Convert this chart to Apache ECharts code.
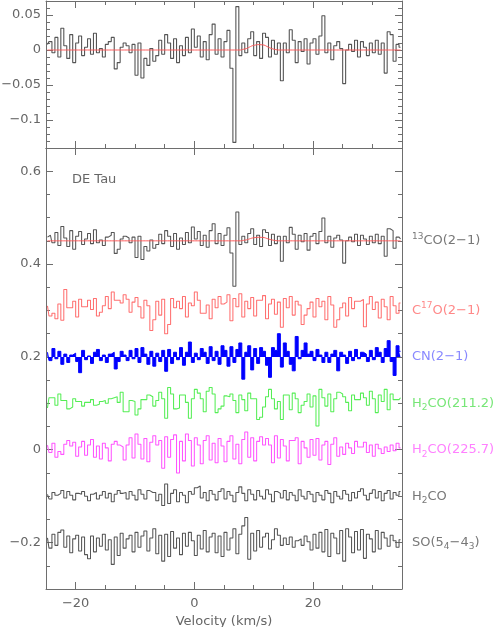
<!DOCTYPE html>
<html>
<head>
<meta charset="utf-8">
<script src="https://cdn.jsdelivr.net/npm/echarts@6/dist/echarts.min.js"></script>
<style>
html,body{margin:0;padding:0;background:#fff;}
#chart{width:493px;height:627px;}
</style>
</head>
<body>
<div id="chart"></div>
<script>
// ---- channel grid (km/s) ----
const v0 = -24.75;   // first channel centre
const dv = 0.5;      // channel width

// ---- top panel: 13CO(2-1) spectrum and model ----
const co13Top = [
 0.008, 0.012,-0.004, 0.018,-0.010, 0.031, 0.006,-0.012, 0.022,-0.018,
 0.010, 0.020,-0.008, 0.004, 0.016,-0.006, 0.024,-0.004, 0.002,-0.010,
 0.008, 0.012, 0.018,-0.027,-0.018, 0.004, 0.010, 0.006,-0.004, 0.008,
-0.036, 0.010,-0.040,-0.012,-0.022, 0.002,-0.016,-0.008, 0.014,-0.006,
 0.022, 0.010,-0.012, 0.016,-0.018, 0.006,-0.008, 0.018,-0.004, 0.030,
 0.004, 0.020,-0.010, 0.012,-0.014, 0.022, 0.037,-0.006, 0.016,-0.010,
 0.012, 0.028,-0.026,-0.132, 0.062,-0.008, 0.010,-0.004, 0.016, 0.026,
-0.008, 0.012,-0.012, 0.024, 0.018,-0.010, 0.014,-0.006, 0.010,-0.044,
 0.010,-0.004, 0.029, 0.014,-0.018, 0.012,-0.002, 0.016,-0.020, 0.010,
 0.016,-0.006, 0.020, 0.049,-0.004, 0.010,-0.014, 0.006, 0.012, 0.002,
-0.048, 0.000, 0.008,-0.002, 0.014,-0.010, 0.012, 0.004,-0.008, 0.010,
-0.004, 0.014,-0.006, 0.010,-0.033, 0.026, 0.022,-0.016, 0.008, 0.004
];
const model = [
 0,0,0,0,0,0,0,0,0,0,
 0,0,0,0,0,0,0,0,0,0,
 0,0,0,0,0,0,0,0,0,0,
 0,0,0,0,0,0,0,0,0,0,
 0,0,0,0,0,0,0,0,0,0,
 0,0,0,0,0,0,0,0,0,0,
 0,0,0,0,0,0,0.001,0.002,0.004,0.006,
 0.007,0.0077,0.0075,0.007,0.005,0.003,0.0015,0.0005,0,0,
 0,0,0,0,0,0,0,0,0,0,
 0,0,0,0,0,0,0,0,0,0,
 0,0,0,0,0,0,0,0,0,0,
 0,0,0,0,0,0,0,0,0,0
];

// ---- bottom panel spectra (relative to their baselines) ----
const co13 = [
 0.008, 0.012,-0.004, 0.018,-0.010, 0.031, 0.006,-0.012, 0.022,-0.018,
 0.010, 0.020,-0.008, 0.004, 0.016,-0.006, 0.024,-0.004, 0.002,-0.010,
 0.008, 0.012, 0.018,-0.027,-0.018, 0.004, 0.010, 0.006,-0.004, 0.008,
-0.036, 0.010,-0.040,-0.012,-0.022, 0.002,-0.016,-0.008, 0.014,-0.006,
 0.022, 0.010,-0.012, 0.016,-0.018, 0.006,-0.008, 0.018,-0.004, 0.030,
 0.004, 0.020,-0.010, 0.012,-0.014, 0.022, 0.037,-0.006, 0.016,-0.010,
 0.012, 0.028,-0.026,-0.098, 0.062,-0.008, 0.010,-0.004, 0.016, 0.026,
-0.008, 0.012,-0.012, 0.024, 0.018,-0.010, 0.014,-0.006, 0.010,-0.044,
 0.010,-0.004, 0.029, 0.014,-0.018, 0.012,-0.002, 0.016,-0.020, 0.010,
 0.016,-0.006, 0.020, 0.049,-0.004, 0.010,-0.014, 0.006, 0.012, 0.002,
-0.048, 0.000, 0.008,-0.002, 0.014,-0.010, 0.012, 0.004,-0.008, 0.010,
-0.004, 0.014,-0.006, 0.010,-0.033, 0.026, 0.022,-0.016, 0.008, 0.004
];
const c17o = [
 0.010,-0.012,-0.006,-0.018, 0.014,-0.021, 0.045, 0.006, 0.006, 0.020,
-0.014, 0.024, 0.008, 0.008, 0.022, 0.002, 0.026,-0.012,-0.004, 0.010,
 0.030, 0.004, 0.040, 0.022, 0.022, 0.016, 0.034, 0.024,-0.004, 0.018,
 0.028, 0.008,-0.016, 0.022, 0.010,-0.043,-0.020, 0.020,-0.010, 0.024,
-0.050,-0.030, 0.026, 0.006, 0.020, 0.004, 0.030,-0.014, 0.016, 0.010,
 0.040, 0.022,-0.006,-0.006, 0.012,-0.018, 0.024, 0.006, 0.030, 0.014,
 0.018, 0.034,-0.022, 0.026, 0.008, 0.036,-0.014, 0.020, 0.004, 0.028,
-0.012, 0.022, 0.022, 0.032,-0.018, 0.014, 0.024,-0.008, 0.018,-0.036,
 0.026, 0.006, 0.030,-0.010, 0.020, 0.012,-0.030,-0.010, 0.004, 0.018,
-0.014, 0.026, 0.008, 0.020,-0.020, 0.030, 0.012,-0.036,-0.020, 0.006,
 0.016,-0.012, 0.028, 0.004, 0.020, 0.020, 0.024,-0.035, 0.014, 0.030,
 0.002, 0.018,-0.016, 0.024, 0.008,-0.020, 0.030, 0.010,-0.006, 0.016
];
const cn = [
 0.010,-0.008, 0.018,-0.004, 0.012,-0.016, 0.006,-0.012, 0.004, 0.008,
-0.010,-0.034, 0.014,-0.006, 0.002,-0.014, 0.010, 0.016,-0.008, 0.004,
-0.012, 0.006, 0.010,-0.026,-0.010, 0.012, 0.004,-0.008, 0.014,-0.004,
 0.018,-0.012, 0.020, 0.006,-0.016, 0.012,-0.020, 0.008,-0.010, 0.014,
-0.031, 0.016,-0.014, 0.010,-0.006, 0.020,-0.018, 0.010, 0.032,-0.012,
 0.008,-0.006, 0.018, 0.010,-0.014, 0.022,-0.008, 0.012,-0.016, 0.024,
 0.014,-0.020, 0.022,-0.012, 0.016, 0.030,-0.048, 0.010, 0.024,-0.028,
 0.018,-0.014, 0.020, 0.012,-0.018,-0.044, 0.020, 0.014, 0.050,-0.022,
 0.030, 0.012,-0.016,-0.030, 0.044,-0.004, 0.014, 0.030, 0.006, 0.012,
-0.008, 0.016, 0.004,-0.012, 0.010,-0.012, 0.006, 0.014,-0.030, 0.010,
 0.004,-0.014, 0.012,-0.008, 0.016,-0.004, 0.010, 0.006,-0.010, 0.014,
-0.006, 0.020, 0.010,-0.012, 0.018, 0.035,-0.010,-0.040, 0.024, 0.012
];
const h2co211 = [
-0.010, 0.012, 0.012,-0.004, 0.020, 0.006, 0.006,-0.012,-0.008, 0.010,
 0.004, 0.004,-0.006, 0.002, 0.002, 0.008,-0.004,-0.002, 0.004, 0.006,
 0.000, 0.010, 0.012, 0.014, 0.002, 0.024,-0.018,-0.018, 0.006, 0.004,
-0.025,-0.012, 0.008, 0.008, 0.018, 0.014,-0.006, 0.006, 0.024, 0.010,
-0.032, 0.034, 0.020,-0.012,-0.010, 0.018, 0.018, 0.002,-0.032, 0.010,
 0.030, 0.022, 0.010,-0.018, 0.026, 0.034, 0.020,-0.020,-0.012,-0.006,
 0.016, 0.014, 0.020, 0.006,-0.020, 0.018, 0.008,-0.016, 0.022, 0.010,
 0.010,-0.035,-0.030,-0.008, 0.014, 0.030, 0.010,-0.012, 0.004,-0.035,
 0.018, 0.018,-0.014, 0.022, 0.010,-0.020,-0.004, 0.004, 0.020,-0.008,
 0.016,-0.049, 0.030, 0.012,-0.006, 0.020,-0.018, 0.010, 0.024, 0.020,
 0.014, 0.002,-0.016, 0.018, 0.008, 0.008, 0.022, 0.012,-0.004, 0.026,
 0.010,-0.020, 0.018, 0.004, 0.030,-0.014, 0.020, 0.008, 0.008, 0.012
];
const h2co225 = [
 0.010,-0.006, 0.014,-0.016,-0.004,-0.010, 0.012, 0.020, 0.008, 0.016,
-0.014, 0.006, 0.018,-0.012, 0.010, 0.022,-0.016, 0.008,-0.020, 0.014,
 0.004,-0.024, 0.012, 0.018, 0.010, 0.006,-0.022, 0.010, 0.026,-0.018,
 0.034, 0.012,-0.020, 0.024,-0.026, 0.016, 0.030, 0.010, 0.020,-0.040,
 0.028,-0.016, 0.022, 0.032,-0.050, 0.018,-0.024, 0.034, 0.020,-0.035,
 0.026, 0.010,-0.030, 0.020, 0.030,-0.022, 0.014,-0.028, 0.024, 0.008,
-0.026, 0.018, 0.030,-0.020, 0.012,-0.030, 0.022, 0.038,-0.016, 0.026,
-0.024, 0.018, 0.028, 0.010, 0.024, 0.010,-0.028, 0.030,-0.018, 0.022,
 0.008,-0.024, 0.020, 0.020, 0.026,-0.030, 0.018, 0.004,-0.016, 0.022,
-0.012, 0.024,-0.022, 0.010, 0.018,-0.032, 0.012, 0.026,-0.014, 0.006,
-0.010, 0.014, 0.004,-0.008, 0.018, 0.006, 0.006, 0.016,-0.006, 0.010,
-0.014, 0.012, 0.002,-0.008, 0.006,-0.004, 0.010,-0.002, 0.014, 0.004
];
const h2co = [
 0.004,-0.006, 0.008, 0.002, 0.006, 0.012,-0.004, 0.010, 0.002,-0.008,
 0.006, 0.004, 0.010, 0.000,-0.010, 0.004, 0.008,-0.006, 0.002, 0.010,
-0.004, 0.006,-0.012, 0.004, 0.012, 0.006, 0.008,-0.006, 0.010, 0.002,
-0.008, 0.014, 0.004,-0.006, 0.012, 0.008, 0.008,-0.010, 0.004,-0.020,
 0.026,-0.016, 0.006, 0.014,-0.012, 0.008, 0.002,-0.014, 0.010, 0.004,
 0.018, 0.022,-0.004, 0.008,-0.010, 0.012, 0.004,-0.008, 0.010, 0.016,
-0.006, 0.010, 0.002,-0.012, 0.008, 0.020, 0.006,-0.010, 0.014, 0.004,
-0.008, 0.012, 0.000,-0.006, 0.014, 0.004,-0.012, 0.010, 0.006,-0.004,
 0.012,-0.008, 0.008, 0.002,-0.010, 0.014, 0.000,-0.006, 0.010, 0.004,
-0.012, 0.008, 0.002,-0.008, 0.012, 0.006,-0.014, 0.010, 0.000,-0.006,
 0.012, 0.004,-0.010, 0.008,-0.004, 0.010, 0.016, 0.002,-0.008, 0.006,
 0.014,-0.004, 0.010,-0.010, 0.006, 0.012,-0.006, 0.008, 0.002, 0.010
];
const so = [
 0.010,-0.012, 0.018,-0.006, 0.022, 0.027,-0.010, 0.014,-0.022, 0.008,
 0.016,-0.018, 0.012,-0.026,-0.035, 0.014,-0.020, 0.010,-0.008, 0.018,
-0.016, 0.006,-0.047, 0.012,-0.028, 0.020,-0.012, 0.008, 0.016,-0.020,
 0.022,-0.010, 0.014, 0.025,-0.018, 0.010, 0.030,-0.024, 0.016,-0.040,
 0.018,-0.030, 0.024,-0.012, 0.010,-0.026, 0.020,-0.008, 0.022, 0.004,
-0.028, 0.016,-0.014, 0.026,-0.020, 0.012, 0.020,-0.022, 0.014,-0.030,
 0.022,-0.016, 0.010, 0.030,-0.024, 0.018, 0.036, 0.054,-0.036, 0.020,
-0.018, 0.026,-0.010, 0.012, 0.020,-0.014, 0.006, 0.030, 0.016,-0.006,
 0.010,-0.004, 0.012,-0.010, 0.004, 0.008,-0.006, 0.014, 0.002,-0.016,
 0.018,-0.012, 0.022,-0.020, 0.028,-0.030, 0.020, 0.010,-0.024, 0.026,
-0.040, 0.030, 0.012,-0.022, 0.024,-0.016, 0.028,-0.034, 0.018, 0.008,
-0.020, 0.026,-0.014, 0.022, 0.010,-0.008, 0.016, 0.004,-0.010, 0.006
];

// ---- stacking baselines, labels, colours ----
const offsets   = [0.45, 0.30, 0.20, 0.10, 0.00, -0.10, -0.20];
const lineNames = ['{sup|13}CO(2\u22121)', 'C{sup|17}O(2\u22121)', 'CN(2\u22121)',
                   'H{sub|2}CO(211.2)', 'H{sub|2}CO(225.7)', 'H{sub|2}CO', 'SO(5{sub|4}\u22124{sub|3})'];
const lineColors  = ['#555555', '#ff7070', '#0000ff', '#55ee55', '#ff55ff', '#555555', '#555555'];
const labelColors = ['#555555', '#ff6a6a', '#6a6aff', '#55e055', '#ff60ff', '#555555', '#555555'];
const sourceName = 'DE Tau';
const xTitle = 'Velocity (km/s)';

// ---- tick values ----
const xRange = [-25, 35], xMinorStep = 5, xMajor = [-20, 0, 20];
const yTopRange = [-0.14, 0.07], yTopMinorStep = 0.01, yTopMajor = [-0.1, -0.05, 0, 0.05];
const yBotRange = [-0.3, 0.65], yBotMinorStep = 0.05, yBotMajor = [-0.2, 0, 0.2, 0.4, 0.6];

const FONT = 'DejaVu Sans';
const FS = 13;
const AX = '#6e6e6e';
const TXT = '#666666';

function fmt(v) {
  if (Math.abs(v) < 1e-9) return '0';
  const s = String(+Math.abs(v).toFixed(3));
  return (v < 0 ? '\u2212' : '') + s;
}
function toPts(arr, off) { return arr.map((y, i) => [v0 + dv * i, off + y]); }

function axis(dim, gridIndex, position, kind, range, step, majors, withLabels, extra) {
  const major = kind === 'major';
  const a = {
    type: 'value', gridIndex, position, min: range[0], max: range[1], interval: step,
    axisLine: { show: !major, onZero: false, lineStyle: { color: AX, width: 1 } },
    axisTick: { show: true, inside: true, length: major ? 7 : 4, lineStyle: { color: AX, width: 1 } },
    axisLabel: { show: false },
    splitLine: { show: false }
  };
  if (major) a.axisTick.customValues = majors;
  if (withLabels) {
    a.axisLabel = { show: true, customValues: majors, formatter: fmt, color: TXT,
                    fontFamily: FONT, fontSize: FS, margin: dim === 'x' ? 8 : 5 };
  }
  return Object.assign(a, extra || {});
}

const xAxes = [
  axis('x', 0, 'bottom', 'minor', xRange, xMinorStep, xMajor, false),
  axis('x', 0, 'bottom', 'major', xRange, xMinorStep, xMajor, false),
  axis('x', 0, 'top', 'minor', xRange, xMinorStep, xMajor, false),
  axis('x', 0, 'top', 'major', xRange, xMinorStep, xMajor, false),
  axis('x', 1, 'bottom', 'minor', xRange, xMinorStep, xMajor, false),
  axis('x', 1, 'bottom', 'major', xRange, xMinorStep, xMajor, true,
       { name: xTitle, nameLocation: 'middle', nameGap: 24,
         nameTextStyle: { color: TXT, fontFamily: FONT, fontSize: FS } }),
  axis('x', 1, 'top', 'major', xRange, xMinorStep, xMajor, false),
];
xAxes[6].axisLine.show = true;

const yAxes = [
  axis('y', 0, 'left', 'minor', yTopRange, yTopMinorStep, yTopMajor, false),
  axis('y', 0, 'left', 'major', yTopRange, yTopMinorStep, yTopMajor, true),
  axis('y', 0, 'right', 'minor', yTopRange, yTopMinorStep, yTopMajor, false),
  axis('y', 0, 'right', 'major', yTopRange, yTopMinorStep, yTopMajor, false),
  axis('y', 1, 'left', 'minor', yBotRange, yBotMinorStep, yBotMajor, false),
  axis('y', 1, 'left', 'major', yBotRange, yBotMinorStep, yBotMajor, true),
  axis('y', 1, 'right', 'minor', yBotRange, yBotMinorStep, yBotMajor, false),
  axis('y', 1, 'right', 'major', yBotRange, yBotMinorStep, yBotMajor, false),
];

function stepSeries(data, xi, yi, color, width, extra) {
  return Object.assign({
    type: 'line', step: 'middle', data, xAxisIndex: xi, yAxisIndex: yi,
    showSymbol: false, symbol: 'none', animation: false, silent: true,
    lineStyle: { color, width }
  }, extra || {});
}
function modelSeries(data, xi, yi) {
  return { type: 'line', data, xAxisIndex: xi, yAxisIndex: yi, showSymbol: false, symbol: 'none',
           animation: false, silent: true, smooth: true, lineStyle: { color: '#ff5a5a', width: 1 } };
}

const bottomSpectra = [co13, c17o, cn, h2co211, h2co225, h2co, so];
const series = [
  stepSeries(toPts(co13Top, 0), 0, 0, '#555555', 1.1),
  modelSeries(toPts(model, 0), 0, 0),
];
bottomSpectra.forEach((arr, k) => {
  const extra = {};
  let w = 1.05;
  if (k === 2) { // CN drawn as filled histogram
    extra.areaStyle = { origin: offsets[k], color: lineColors[k], opacity: 1 };
    w = 1;
  }
  series.push(stepSeries(toPts(arr, offsets[k]), 4, 4, lineColors[k], w, extra));
  if (k === 0) series.push(modelSeries(toPts(model, offsets[0]), 4, 4));
});

const rich = {
  sup: { fontSize: 9, lineHeight: 6, verticalAlign: 'top', fontFamily: FONT },
  sub: { fontSize: 9, lineHeight: 9, verticalAlign: 'bottom', fontFamily: FONT }
};
series.push({
  type: 'scatter', xAxisIndex: 4, yAxisIndex: 4, symbolSize: 0, clip: false, silent: true, animation: false,
  data: offsets.map((o, k) => ({
    value: [xRange[1], o],
    label: { show: true, position: 'right', distance: 10, formatter: lineNames[k],
             color: labelColors[k], fontFamily: FONT, fontSize: FS, lineHeight: 18,
             rich: JSON.parse(JSON.stringify(rich)) }
  }))
});
series[series.length - 1].data.forEach((d, k) => {
  d.label.rich.sup.color = labelColors[k];
  d.label.rich.sub.color = labelColors[k];
});

const chart = echarts.init(document.getElementById('chart'), null, { renderer: 'canvas' });
chart.setOption({
  backgroundColor: '#ffffff',
  animation: false,
  grid: [
    { left: 46, right: 91, top: 1, height: 147, containLabel: false, outerBoundsMode: 'none' },
    { left: 46, right: 91, top: 148, bottom: 38, containLabel: false, outerBoundsMode: 'none' }
  ],
  xAxis: xAxes,
  yAxis: yAxes,
  graphic: [{
    type: 'text', left: 72, top: 173,
    style: { text: sourceName, fill: TXT, font: FS + 'px "' + FONT + '"' }
  }],
  series
});
</script>
</body>
</html>
